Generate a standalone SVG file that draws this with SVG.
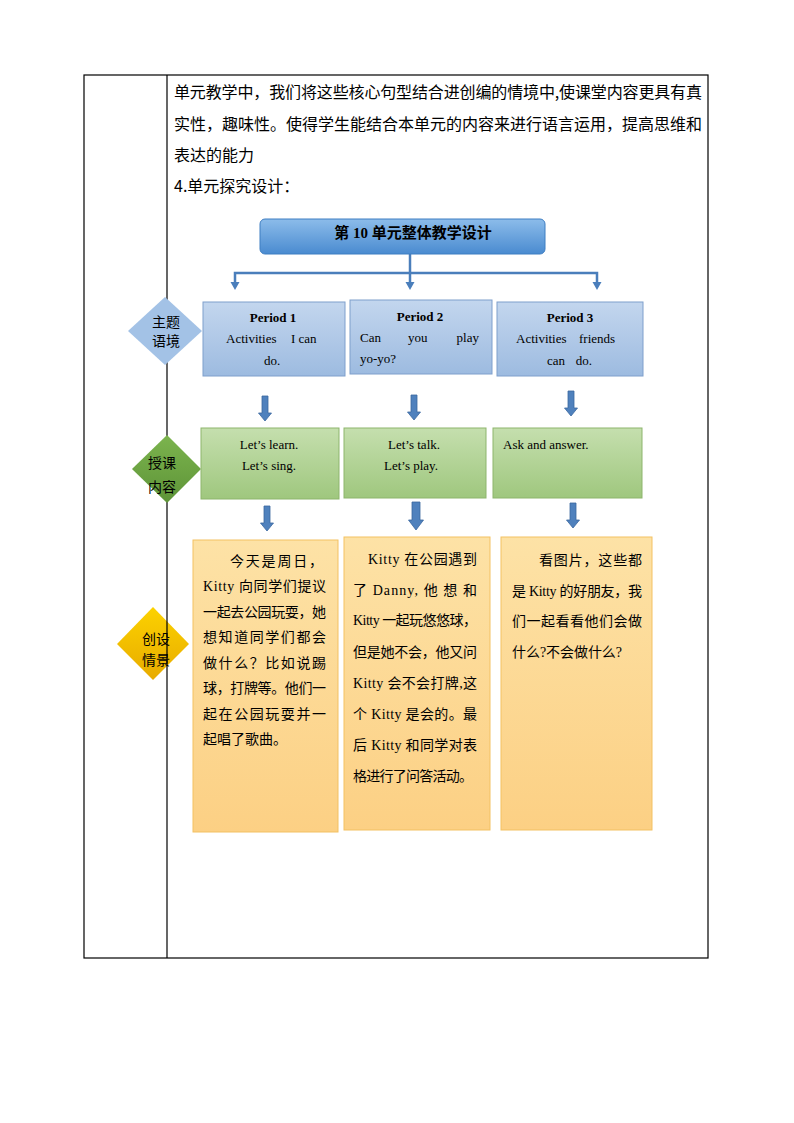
<svg xmlns="http://www.w3.org/2000/svg" width="794" height="1123" viewBox="0 0 794 1123">
<style>
.tbl{stroke:#000;stroke-width:1.2;fill:none}
.para{font-family:"Noto Sans CJK SC","Liberation Sans",sans-serif;font-size:16px;fill:#000}
.bx{font-family:"Liberation Serif","Noto Sans CJK SC",serif;font-size:13px;fill:#000}
.bold{font-weight:bold}
.cn{font-family:"Noto Sans CJK SC",sans-serif;font-size:14px;fill:#000}
.st{font-family:"Liberation Serif","Noto Sans CJK SC",serif;font-size:14px;fill:#000}
.conn{stroke:#4a7ebb;stroke-width:2.5;fill:none}
.head{fill:#4a7ebb}
.ba{fill:#4f81bd;stroke:#3a67a0;stroke-width:0.8}
</style>
<defs>
<linearGradient id="gTitle" x1="0" y1="0" x2="0" y2="1"><stop offset="0" stop-color="#8cbcea"/><stop offset="1" stop-color="#4a8bd0"/></linearGradient>
<linearGradient id="gBlue" x1="0" y1="0" x2="0" y2="1"><stop offset="0" stop-color="#c3d6ee"/><stop offset="1" stop-color="#9dbbe0"/></linearGradient>
<linearGradient id="gGreen" x1="0" y1="0" x2="0" y2="1"><stop offset="0" stop-color="#c5dfae"/><stop offset="1" stop-color="#9fc77e"/></linearGradient>
<linearGradient id="gOrange" x1="0" y1="0" x2="0" y2="1"><stop offset="0" stop-color="#fde2a6"/><stop offset="1" stop-color="#fcd084"/></linearGradient>
<linearGradient id="gDG" x1="0" y1="0" x2="0" y2="1"><stop offset="0" stop-color="#7cb44e"/><stop offset="1" stop-color="#5e9438"/></linearGradient>
<linearGradient id="gGold" x1="0" y1="0" x2="0" y2="1"><stop offset="0" stop-color="#fcd200"/><stop offset="1" stop-color="#e8ab00"/></linearGradient>
<path id="arrS" d="M-3,0 h6 v17 h3.5 l-6.5,8 l-6.5,-8 h3.5 z"/>
<path id="arrB" d="M-4,0 h8 v18 h3.5 l-7.5,10 l-7.5,-10 h3.5 z"/>
<path id="tri" d="M-4.5,0 h9 l-4.5,8 z"/>
</defs>

<g id="node-golddiamond">
<polygon points="153,607 189,644 153,680 117,644" fill="url(#gGold)"/>
<text class="cn" x="156" y="644" text-anchor="middle">创设</text>
<text class="cn" x="156" y="665" text-anchor="middle">情景</text>
</g>

<g id="table">
<rect class="tbl" x="84" y="75" width="624" height="883"/>
<line class="tbl" x1="167" y1="75" x2="167" y2="958"/>
</g>

<g id="paragraph">
<text class="para" x="174" y="98" textLength="528" lengthAdjust="spacing">单元教学中，我们将这些核心句型结合进创编的情境中,使课堂内容更具有真</text>
<text class="para" x="174" y="130" textLength="528" lengthAdjust="spacing">实性，趣味性。使得学生能结合本单元的内容来进行语言运用，提高思维和</text>
<text class="para" x="174" y="161">表达的能力</text>
<text class="para" x="174" y="192">4.单元探究设计：</text>
</g>

<g id="connectors">
<line class="conn" x1="410" y1="254" x2="410" y2="283"/>
<polyline class="conn" points="235,283 235,273 597,273 597,283"/>
<use href="#tri" class="head" x="235" y="282"/>
<use href="#tri" class="head" x="410" y="282"/>
<use href="#tri" class="head" x="597" y="282"/>
<use href="#arrS" class="ba" x="265" y="396"/>
<use href="#arrS" class="ba" x="414" y="395"/>
<use href="#arrS" class="ba" x="571" y="391"/>
<use href="#arrS" class="ba" x="267" y="506"/>
<use href="#arrB" class="ba" x="416" y="502"/>
<use href="#arrS" class="ba" x="573" y="503"/>
</g>

<g id="node-title">
<rect x="260" y="219" width="285" height="35" rx="5" fill="url(#gTitle)" stroke="#3f7ec2" stroke-width="1"/>
<text class="bx bold" x="413" y="238" text-anchor="middle" style="font-size:15px">第 10 单元整体教学设计</text>
</g>

<g id="node-bluediamond">
<polygon points="165,297 202,331 165,365 128,331" fill="#a3c2e6"/>
<text class="cn" x="166" y="327" text-anchor="middle">主题</text>
<text class="cn" x="166" y="346" text-anchor="middle">语境</text>
</g>

<g id="node-period1">
<rect x="203" y="302" width="142" height="74" fill="url(#gBlue)" stroke="#7f9fcc" stroke-width="1"/>
<text class="bx bold" x="273" y="322" text-anchor="middle">Period 1</text>
<text class="bx" x="226" y="343">Activities</text>
<text class="bx" x="291" y="343">I can</text>
<text class="bx" x="272" y="365" text-anchor="middle">do.</text>
</g>

<g id="node-period2">
<rect x="350" y="300" width="142" height="74" fill="url(#gBlue)" stroke="#7f9fcc" stroke-width="1"/>
<text class="bx bold" x="420" y="321" text-anchor="middle">Period 2</text>
<text class="bx" x="360" y="342">Can</text>
<text class="bx" x="408" y="342">you</text>
<text class="bx" x="479" y="342" text-anchor="end">play</text>
<text class="bx" x="360" y="363">yo-yo?</text>
</g>

<g id="node-period3">
<rect x="497" y="302" width="146" height="74" fill="url(#gBlue)" stroke="#7f9fcc" stroke-width="1"/>
<text class="bx bold" x="570" y="322" text-anchor="middle">Period 3</text>
<text class="bx" x="516" y="343">Activities</text>
<text class="bx" x="579" y="343">friends</text>
<text class="bx" x="547" y="365">can</text>
<text class="bx" x="592" y="365" text-anchor="end">do.</text>
</g>

<g id="node-greendiamond">
<polygon points="167,435 201,469 167,503 132,469" fill="url(#gDG)"/>
<text class="cn" x="162" y="468" text-anchor="middle">授课</text>
<text class="cn" x="162" y="492" text-anchor="middle">内容</text>
</g>

<g id="node-green1">
<rect x="201" y="428" width="138" height="71" fill="url(#gGreen)" stroke="#8db56c" stroke-width="1"/>
<text class="bx" x="269" y="449" text-anchor="middle">Let’s learn.</text>
<text class="bx" x="269" y="470" text-anchor="middle">Let’s sing.</text>
</g>

<g id="node-green2">
<rect x="344" y="428" width="142" height="70" fill="url(#gGreen)" stroke="#8db56c" stroke-width="1"/>
<text class="bx" x="414" y="449" text-anchor="middle">Let’s talk.</text>
<text class="bx" x="411" y="470" text-anchor="middle">Let’s play.</text>
</g>

<g id="node-green3">
<rect x="493" y="428" width="149" height="70" fill="url(#gGreen)" stroke="#8db56c" stroke-width="1"/>
<text class="bx" x="503" y="449">Ask and answer.</text>
</g>

<g id="node-orange1">
<rect x="193" y="540" width="145" height="292" fill="url(#gOrange)" stroke="#f3c163" stroke-width="1"/>
<text class="st" x="230" y="566" textLength="93" lengthAdjust="spacing">今天是周日，</text>
<text class="st" x="203" y="591" textLength="123" lengthAdjust="spacing">Kitty 向同学们提议</text>
<text class="st" x="203" y="617" textLength="123" lengthAdjust="spacing">一起去公园玩耍，她</text>
<text class="st" x="203" y="642" textLength="123" lengthAdjust="spacing">想知道同学们都会</text>
<text class="st" x="203" y="668" textLength="123" lengthAdjust="spacing">做什么？比如说踢</text>
<text class="st" x="203" y="693" textLength="123" lengthAdjust="spacing">球，打牌等。他们一</text>
<text class="st" x="203" y="719" textLength="123" lengthAdjust="spacing">起在公园玩耍并一</text>
<text class="st" x="203" y="744">起唱了歌曲。</text>
</g>

<g id="node-orange2">
<rect x="344" y="537" width="146" height="293" fill="url(#gOrange)" stroke="#f3c163" stroke-width="1"/>
<text class="st" x="368" y="564" textLength="109" lengthAdjust="spacing">Kitty 在公园遇到</text>
<text class="st" x="353" y="595" textLength="124" lengthAdjust="spacing">了 Danny, 他 想 和</text>
<text class="st" x="353" y="625" textLength="124" lengthAdjust="spacing">Kitty 一起玩悠悠球，</text>
<text class="st" x="353" y="657" textLength="124" lengthAdjust="spacing">但是她不会，他又问</text>
<text class="st" x="353" y="688" textLength="124" lengthAdjust="spacing">Kitty 会不会打牌,这</text>
<text class="st" x="353" y="719" textLength="124" lengthAdjust="spacing">个 Kitty 是会的。最</text>
<text class="st" x="353" y="750" textLength="124" lengthAdjust="spacing">后 Kitty 和同学对表</text>
<text class="st" x="353" y="781" textLength="120" lengthAdjust="spacing">格进行了问答活动。</text>
</g>

<g id="node-orange3">
<rect x="501" y="537" width="151" height="293" fill="url(#gOrange)" stroke="#f3c163" stroke-width="1"/>
<text class="st" x="539" y="565" textLength="103" lengthAdjust="spacing">看图片，这些都</text>
<text class="st" x="512" y="596" textLength="130" lengthAdjust="spacing">是 Kitty 的好朋友，我</text>
<text class="st" x="512" y="626" textLength="130" lengthAdjust="spacing">们一起看看他们会做</text>
<text class="st" x="512" y="657" textLength="110" lengthAdjust="spacing">什么?不会做什么?</text>
</g>
</svg>
